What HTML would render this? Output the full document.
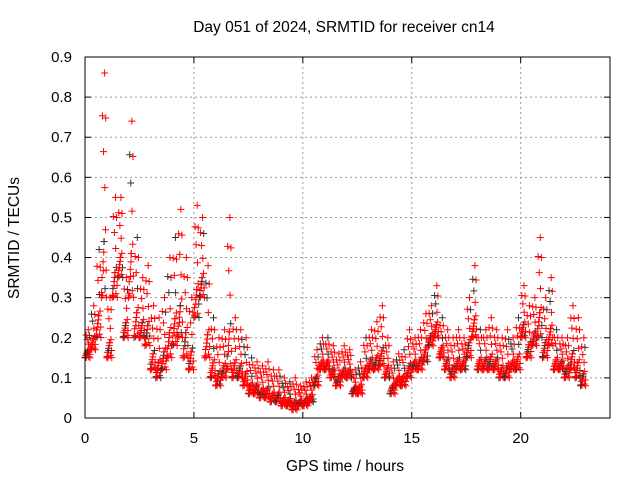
<!DOCTYPE html>
<html><head><meta charset="utf-8"><style>
body{margin:0;background:#fff}
svg{display:block;font-family:"Liberation Sans",sans-serif}
</style></head><body>
<svg id="chart" width="640" height="480">
<text x="344" y="32" font-size="15.5" text-anchor="middle">Day 051 of 2024, SRMTID for receiver cn14</text>
<text x="345" y="471" font-size="15.5" text-anchor="middle">GPS time / hours</text>
<text x="19" y="238" font-size="15.5" text-anchor="middle" transform="rotate(-90 19 238)">SRMTID / TECUs</text>
<g id="grid"></g><g id="ticks"></g><g id="marks"></g>
<rect x="85" y="57" width="525" height="361" fill="none" stroke="#000"/>
</svg>
<script>
const times=[0,0.25,0.5,0.75,1,1.25,1.5,1.75,2,2.25,2.5,2.75,3,3.25,3.5,3.75,4,4.25,4.5,4.75,5,5.25,5.5,5.75,6,6.25,6.5,6.75,7,7.25,7.5,7.75,8,8.25,8.5,8.75,9,9.25,9.5,9.75,10,10.25,10.5,10.75,11,11.25,11.5,11.75,12,12.25,12.5,12.75,13,13.25,13.5,13.75,14,14.25,14.5,14.75,15,15.25,15.5,15.75,16,16.25,16.5,16.75,17,17.25,17.5,17.75,18,18.25,18.5,18.75,19,19.25,19.5,19.75,20,20.25,20.5,20.75,21,21.25,21.5,21.75,22,22.25,22.5,22.75];
const lowVals=[15,17,20,30,15,30,35,20,30,20,20,18,12,10,12,15,18,20,15,12,25,30,15,10,8,10,12,10,10,8,6,6,5,5,4,4,3,3,2,3,3,4,8,12,12,10,8,10,10,6,6,10,12,12,13,10,6,8,8,10,12,12,14,18,20,15,12,10,12,12,15,20,12,12,12,12,10,10,12,12,20,15,18,20,15,18,12,12,10,12,10,8];
const highVals=[22,28,42,86,30,55,55,35,74,45,35,38,28,25,30,40,45,52,40,30,53,50,38,25,20,22,50,25,22,20,15,14,13,14,12,12,10,9,10,8,9,10,17,20,20,18,16,18,17,12,14,20,22,24,28,20,14,16,17,22,20,22,26,28,33,25,22,20,22,20,30,38,22,22,25,22,20,22,20,25,33,28,30,45,30,35,22,20,20,28,25,20];
const xTicks=[0,5,10,15,20];
const yTicks=[0,0.1,0.2,0.3,0.4,0.5,0.6,0.7,0.8,0.9];
const X=h=>85+h*(525/24.1), Y=v=>418-v*(361/0.9);
const NS="http://www.w3.org/2000/svg";
const grid=document.getElementById('grid'),ticks=document.getElementById('ticks'),marks=document.getElementById('marks');
function mk(t,a,p){const e=document.createElementNS(NS,t);for(const k in a)e.setAttribute(k,a[k]);p.appendChild(e);return e;}
yTicks.forEach(v=>{
 const l=mk('line',{x1:85,x2:610,y1:Y(v),y2:Y(v),stroke:'#999','stroke-dasharray':'2,3'},grid);
 
 
 const t=mk('text',{x:72,y:Y(v)+5,'font-size':15,'text-anchor':'end'},ticks);t.textContent=v===0?'0':v.toFixed(1);
 
 
 mk('line',{x1:85,x2:91,y1:Y(v),y2:Y(v),stroke:'#000'},ticks);
 mk('line',{x1:604,x2:610,y1:Y(v),y2:Y(v),stroke:'#000'},ticks);
});
xTicks.forEach(h=>{
 const l=mk('line',{x1:X(h),x2:X(h),y1:57,y2:418,stroke:'#999','stroke-dasharray':'2,3'},grid);
 
 
 const t=mk('text',{x:X(h),y:443,'font-size':15,'text-anchor':'middle'},ticks);t.textContent=h;
 
 
 mk('line',{x1:X(h),x2:X(h),y1:418,y2:412,stroke:'#000'},ticks);
 mk('line',{x1:X(h),x2:X(h),y1:57,y2:63,stroke:'#000'},ticks);
});
const fr=[0,0.5,0.1,0.8,0.3,0.2,0.65,0.05,0.4,1,0.15,0.55,0.25,0.9,0.35,0.12,0.7,0.45];
const dx=[0,0.13,0.06,0.2,0.03,0.17,0.1,0.23,0.08,0.15,0.01,0.19,0.12,0.05,0.22,0.09,0.16,0.11];
let n=0;
times.forEach((h,i)=>{
 const lo=lowVals[i]/100,hi=highVals[i]/100;
 fr.forEach((f,j)=>{
  const g=(f<1&&j%3)?f*f:f;
  const v=lo+(hi-lo)*g;
  const x=X(h+dx[j]),y=Y(v);
  const c=(n++%7===3)?'#333':'#f00';
  const p=mk('path',{d:`M${x-3.5},${y}h7M${x},${y-3.5}v7`,stroke:c,'stroke-width':1},marks);
  
  
 });
});
</script>
</body></html>
